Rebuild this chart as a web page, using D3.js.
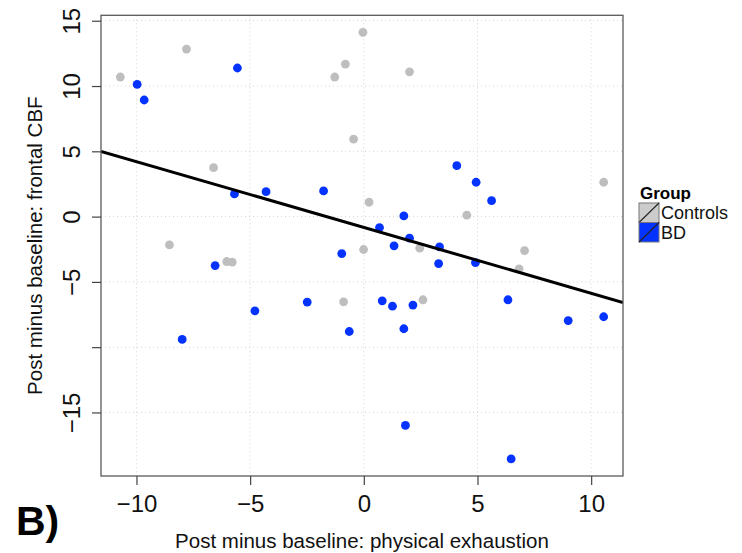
<!DOCTYPE html>
<html>
<head>
<meta charset="utf-8">
<script src="https://cdn.jsdelivr.net/npm/d3@7"></script>
<style>
  html, body { margin: 0; padding: 0; background: #fff; }
  svg { display: block; font-family: "Liberation Sans", Arial, Helvetica, sans-serif; }
</style>
</head>
<body>
<svg id="chart" width="742" height="553"></svg>
<script>
// Change scores (post minus baseline) for each participant
const controlsX = [-10.71, -7.80, -1.28, -0.81, -0.04, 2.01, -0.45, -6.61, -8.55, -6.03,
                   -5.79, -0.89, 0.23, 4.53, -0.01, 2.46, 7.07, 6.83, 2.60, 10.55];
const controlsY = [10.69, 12.83, 10.69, 11.68, 14.11, 11.09, 5.94, 3.75, -2.17, -3.44,
                   -3.49, -6.53, 1.10, 0.11, -2.52, -2.42, -2.60, -4.00, -6.37, 2.63];

const bdX = [-9.97, -9.66, -5.56, -5.69, -4.30, -1.77, -6.54, -0.97, -4.79, -2.49,
             -7.99, -0.64, 4.09, 4.94, 5.62, 1.76, 0.69, 2.01, 1.33, 3.33,
             3.29, 4.91, 0.81, 1.26, 2.16, 6.34, 1.76, 8.99, 10.55, 1.83, 6.48];
const bdY = [10.13, 8.93, 11.38, 1.74, 1.91, 1.97, -3.75, -2.83, -7.22, -6.55,
             -9.41, -8.80, 3.90, 2.63, 1.22, 0.05, -0.84, -1.65, -2.24, -2.32,
             -3.60, -3.52, -6.45, -6.86, -6.78, -6.37, -8.59, -7.96, -7.67, -15.99, -18.56];

// Linear fit across all participants
const fitIntercept = -0.83;
const fitSlope = -0.504;

const groupNames = ["Controls", "BD"];
const groupColors = ["#bebebe", "#0433ff"];
const legendFills = ["#cccccc", "#0433ff"];

const xTicks = [-10, -5, 0, 5, 10];
const xTickLabels = ["\u221210", "\u22125", "0", "5", "10"];
const yTicks = [-15, -10, -5, 0, 5, 10, 15];
const yTickLabels = ["\u221215", "", "\u22125", "0", "5", "10", "15"];

const xTitle = "Post minus baseline: physical exhaustion";
const yTitle = "Post minus baseline: frontal CBF";
const panelTag = "B)";

// Layout
const plot = { left: 101, right: 623, top: 15.3, bottom: 476 };
const svg = d3.select("#chart");

// Axis ranges padded 4% beyond the data, as in base R graphics
const allX = controlsX.concat(bdX);
const allY = controlsY.concat(bdY);
function padded(ext) {
  const d = (ext[1] - ext[0]) * 0.04;
  return [ext[0] - d, ext[1] + d];
}
const x = d3.scaleLinear().domain(padded(d3.extent(allX))).range([plot.left, plot.right]);
const y = d3.scaleLinear().domain(padded(d3.extent(allY))).range([plot.bottom, plot.top]);

// Dotted grid
const grid = svg.append("g")
  .attr("stroke", "#d6d6d6")
  .attr("stroke-width", 1)
  .attr("stroke-dasharray", "1,3");
grid.selectAll("line.gx").data(xTicks).join("line")
  .attr("x1", d => x(d)).attr("x2", d => x(d))
  .attr("y1", plot.top).attr("y2", plot.bottom);
grid.selectAll("line.gy").data(yTicks).join("line")
  .attr("x1", plot.left).attr("x2", plot.right)
  .attr("y1", d => y(d)).attr("y2", d => y(d));

// Points
const clipId = "plot-clip";
svg.append("clipPath").attr("id", clipId).append("rect")
  .attr("x", plot.left).attr("y", plot.top)
  .attr("width", plot.right - plot.left).attr("height", plot.bottom - plot.top);

const groups = [
  { xs: controlsX, ys: controlsY, color: groupColors[0] },
  { xs: bdX, ys: bdY, color: groupColors[1] }
];
groups.forEach(g => {
  svg.append("g").selectAll("circle")
    .data(g.xs.map((v, i) => [v, g.ys[i]]))
    .join("circle")
    .attr("cx", d => x(d[0]))
    .attr("cy", d => y(d[1]))
    .attr("r", 4.4)
    .attr("fill", g.color);
});

// Regression line spanning the plot region
const [x0, x1] = x.domain();
svg.append("line")
  .attr("clip-path", `url(#${clipId})`)
  .attr("x1", x(x0)).attr("y1", y(fitIntercept + fitSlope * x0))
  .attr("x2", x(x1)).attr("y2", y(fitIntercept + fitSlope * x1))
  .attr("stroke", "#000").attr("stroke-width", 3);

// Plot box
svg.append("rect")
  .attr("x", plot.left).attr("y", plot.top)
  .attr("width", plot.right - plot.left).attr("height", plot.bottom - plot.top)
  .attr("fill", "none").attr("stroke", "#5a5a5a").attr("stroke-width", 1.3);

// Bottom axis
const xAxis = svg.append("g")
  .attr("transform", `translate(0,${plot.bottom})`)
  .call(d3.axisBottom(x).tickValues(xTicks).tickSize(9)
    .tickFormat((d, i) => xTickLabels[i]));
xAxis.select(".domain").remove();
xAxis.selectAll(".tick line").attr("stroke", "#444").attr("stroke-width", 1.2);
xAxis.selectAll(".tick text")
  .attr("y", 35.5).attr("dy", 0)
  .attr("fill", "#111")
  .style("font-size", "24px");

// Left axis with labels parallel to the axis
const yAxis = svg.append("g")
  .attr("transform", `translate(${plot.left},0)`)
  .call(d3.axisLeft(y).tickValues(yTicks).tickSize(9)
    .tickFormat((d, i) => yTickLabels[i]));
yAxis.select(".domain").remove();
yAxis.selectAll(".tick line").attr("stroke", "#444").attr("stroke-width", 1.2);
yAxis.selectAll(".tick text")
  .attr("transform", "rotate(-90)")
  .attr("x", 0).attr("y", -21).attr("dy", 0)
  .attr("text-anchor", "middle")
  .attr("fill", "#111")
  .style("font-size", "24px");

// Axis titles
svg.append("text")
  .attr("x", (plot.left + plot.right) / 2).attr("y", 548)
  .attr("text-anchor", "middle")
  .style("font-size", "20.5px").attr("fill", "#111")
  .text(xTitle);

svg.append("text")
  .attr("transform", `translate(41.5,${(plot.top + plot.bottom) / 2}) rotate(-90)`)
  .attr("text-anchor", "middle")
  .style("font-size", "20.5px").attr("fill", "#111")
  .text(yTitle);

// Panel tag
svg.append("text")
  .attr("x", 16).attr("y", 535)
  .style("font-size", "41px").style("font-weight", "bold")
  .attr("fill", "#000")
  .text(panelTag);

// Legend
const legend = svg.append("g").attr("transform", "translate(639,0)");
legend.append("text")
  .attr("x", 1).attr("y", 199)
  .style("font-size", "17px").style("font-weight", "bold")
  .text("Group");
const keyTop = 203, keyH = 19.5, keyW = 20;
groupNames.forEach((name, i) => {
  const ky = keyTop + i * keyH;
  legend.append("rect")
    .attr("x", 0).attr("y", ky).attr("width", keyW).attr("height", keyH)
    .attr("fill", legendFills[i]).attr("stroke", "#777").attr("stroke-width", 1);
  legend.append("line")
    .attr("x1", 0).attr("y1", ky + keyH).attr("x2", keyW).attr("y2", ky)
    .attr("stroke", "#222").attr("stroke-width", 1.1);
  legend.append("text")
    .attr("x", keyW + 2).attr("y", ky + keyH / 2 + 6.5)
    .style("font-size", "18px").attr("fill", "#111")
    .text(name);
});
</script>
</body>
</html>
